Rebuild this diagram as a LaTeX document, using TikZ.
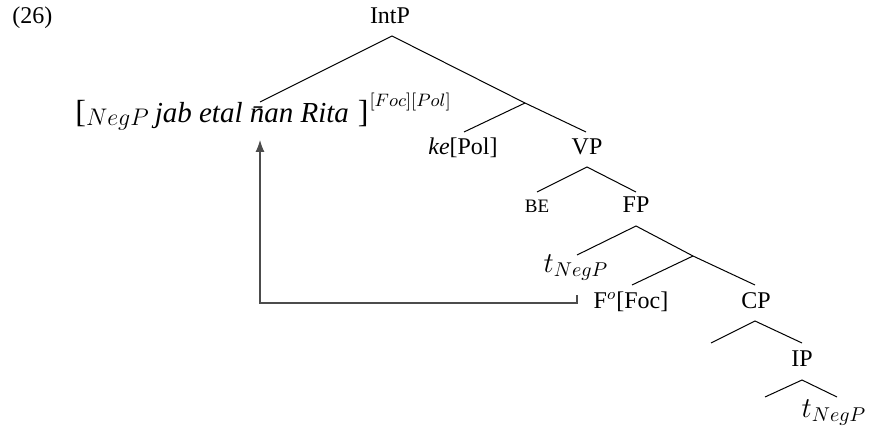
\documentclass[tikz,border=0pt]{standalone}
\usepackage{fontspec}
\setmainfont{Liberation Serif}
\usetikzlibrary{arrows.meta}
\tikzset{
  lbl/.style={anchor=base, inner sep=0pt, font=\fontsize{12pt}{14pt}\selectfont},
  trace/.style={lbl, font=\fontsize{14.5pt}{16pt}\selectfont},
  branch/.style={line width=0.5pt, black},
  movearrow/.style={line width=0.55pt, black!70, -{Latex[length=6pt,width=4.5pt]}}
}
\newcommand{\bigbr}[1]{{\fontsize{16pt}{18pt}\selectfont #1}}
\newcommand{\negsub}{\raisebox{-1.5pt}{\fontsize{12.5pt}{14pt}\selectfont$NegP$}}
\newcommand{\featsup}{\raisebox{8pt}{\fontsize{8.8pt}{10pt}\selectfont$[Foc][Pol]$}}
\begin{document}
\begin{tikzpicture}[x=0.5pt,y=-0.5pt]
\useasboundingbox (0,0) rectangle (870,432);
% labels
\node[lbl, anchor=base west] (ex) at (12,24) {(26)};
\node[lbl] (intp) at (390,24) {IntP};
\node[lbl, anchor=base west] (neg) at (75,123) {\bigbr{[}\negsub\hspace{3pt}{\fontsize{14.5pt}{16pt}\selectfont\itshape jab etal \=nan Rita}\hspace{4.5pt}\bigbr{]}\hspace{0.5pt}\featsup};
\node[lbl] (ke) at (463,155) {\textit{ke}[Pol]};
\node[lbl] (vp) at (587,155) {VP};
\node[lbl, font=\fontsize{9.5pt}{11pt}\selectfont] (be) at (537,213) {BE};
\node[lbl] (fp) at (636,213) {FP};
\node[trace] (t1) at (576,272) {$t_{NegP}$};
\node[lbl] (foc) at (631,308) {F$^{o}$[Foc]};
\node[lbl] (cp) at (756,308) {CP};
\node[lbl] (ip) at (802,366) {IP};
\node[trace] (t2) at (834,417) {$t_{NegP}$};
% branch points
\coordinate (intp-a) at (392,36);
\coordinate (neg-t) at (260,102);
\coordinate (x1) at (525,103);
\coordinate (ke-t) at (464,132);
\coordinate (vp-t) at (586,132);
\coordinate (vp-a) at (587,167);
\coordinate (be-t) at (537,192);
\coordinate (fp-t) at (636,192);
\coordinate (fp-a) at (636,226);
\coordinate (t1-t) at (577,255);
\coordinate (x2) at (693,256);
\coordinate (foc-t) at (632,285);
\coordinate (cp-t) at (755,285);
\coordinate (cp-a) at (755,321);
\coordinate (cp-l) at (711,343);
\coordinate (ip-t) at (802,343);
\coordinate (ip-a) at (802,380);
\coordinate (ip-l) at (765,397);
\coordinate (t2-t) at (837,397);
% tree
\draw[branch] (neg-t) -- (intp-a) -- (x1) -- (vp-t);
\draw[branch] (ke-t) -- (x1);
\draw[branch] (be-t) -- (vp-a) -- (fp-t);
\draw[branch] (t1-t) -- (fp-a) -- (x2) -- (cp-t);
\draw[branch] (foc-t) -- (x2);
\draw[branch] (cp-l) -- (cp-a) -- (ip-t);
\draw[branch] (ip-l) -- (ip-a) -- (t2-t);
% movement arrow
\coordinate (mv-s) at (577,295);
\coordinate (mv-c) at (577,303);
\coordinate (mv-d) at (260,303);
\coordinate (mv-e) at (260,140);
\draw[movearrow] (mv-s) -- (mv-c) -- (mv-d) -- (mv-e);
\end{tikzpicture}
\end{document}
